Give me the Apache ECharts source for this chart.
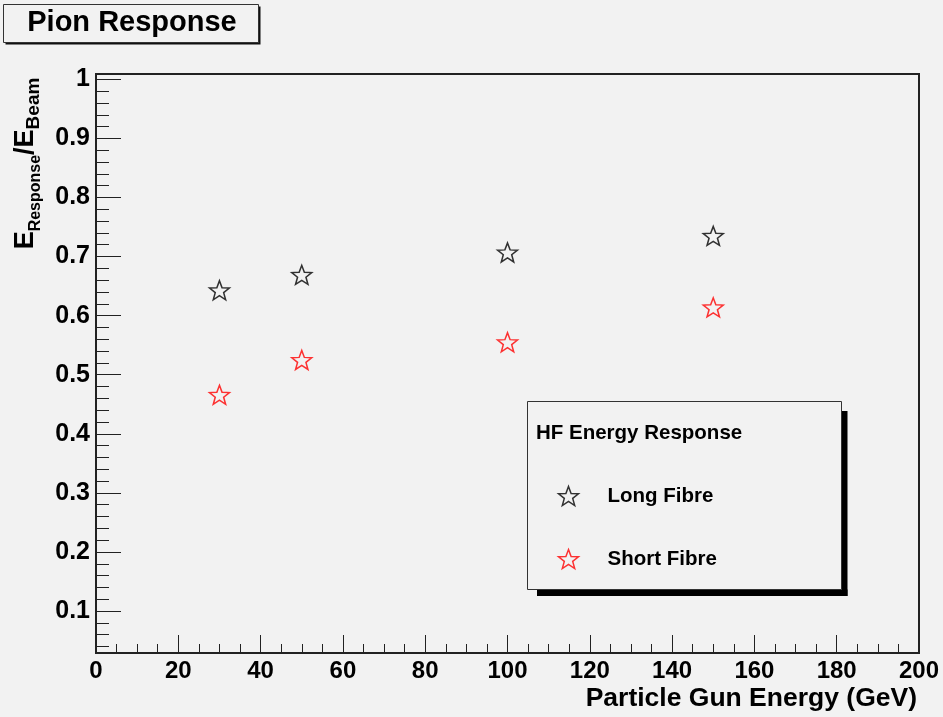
<!DOCTYPE html>
<html>
<head>
<meta charset="utf-8">
<script src="https://cdn.jsdelivr.net/npm/echarts@6/dist/echarts.min.js"></script>
<style>
  html, body { margin: 0; padding: 0; background: #f2f2f2; }
  #chart { width: 943px; height: 717px; }
</style>
</head>
<body>
<div id="chart"></div>
<script>
// Beam energies (GeV) and the measured response fractions
const energies = [30, 50, 100, 150];
const longFibre = [0.643, 0.669, 0.707, 0.735];
const shortFibre = [0.466, 0.525, 0.555, 0.614];

// Axis ranges and tick labels
const xRange = [0, 200];
const yRange = [0.029, 1.009];
const yMajorTicks = [0.1, 0.2, 0.3, 0.4, 0.5, 0.6, 0.7, 0.8, 0.9, 1];

// Minor ticks every 0.02 that fall between the major ones
const yMinorTicks = [];
for (let i = 2; i <= 50; i++) {
  const v = +(i * 0.02).toFixed(2);
  if (v > yRange[0] && v < yRange[1] && Math.abs(v * 10 - Math.round(v * 10)) > 1e-6) yMinorTicks.push(v);
}

// Open five-pointed star outline used as the marker
function starPath(inner) {
  const pts = [];
  for (let k = 0; k < 10; k++) {
    const a = -Math.PI / 2 + k * Math.PI / 5;
    const r = k % 2 === 0 ? 100 : 100 * inner;
    pts.push((r * Math.cos(a)).toFixed(2) + ' ' + (r * Math.sin(a)).toFixed(2));
  }
  return 'path://M' + pts.join(' L') + ' Z';
}
const STAR = starPath(0.42);

const FONT = '"Liberation Sans", Arial, Helvetica, sans-serif';
const BG = '#f2f2f2';
const INK = '#222';

const chart = echarts.init(document.getElementById('chart'), null, { renderer: 'canvas' });

function pairs(ys) { return energies.map((x, i) => [x, ys[i]]); }

const starStyle = (c) => ({ color: 'none', borderColor: c, borderWidth: 1.5 });

chart.setOption({
  backgroundColor: BG,
  animation: false,
  grid: {
    left: 96, right: 24, top: 74, bottom: 64,
    show: true, borderColor: INK, borderWidth: 2, backgroundColor: 'transparent'
  },
  xAxis: {
    type: 'value', min: xRange[0], max: xRange[1], interval: 20,
    axisLine: { show: false },
    splitLine: { show: false },
    axisTick: { show: true, inside: true, length: 18, lineStyle: { color: INK, width: 1 } },
    minorTick: { show: true, splitNumber: 4, length: 9, lineStyle: { color: INK, width: 1 } },
    axisLabel: { fontFamily: FONT, fontSize: 24, fontWeight: 'bold', color: '#000', margin: 6 }
  },
  yAxis: [
    {
      type: 'value', min: yRange[0], max: yRange[1],
      axisLine: { show: false },
      splitLine: { show: false },
      axisTick: { show: true, inside: true, length: 25, customValues: yMajorTicks, lineStyle: { color: INK, width: 1 } },
      axisLabel: {
        customValues: yMajorTicks, fontFamily: FONT, fontSize: 25, fontWeight: 'bold', color: '#000', margin: 6,
        formatter: (v) => String(+v.toFixed(2))
      }
    },
    {
      type: 'value', min: yRange[0], max: yRange[1], position: 'left', offset: 0,
      axisLine: { show: false },
      splitLine: { show: false },
      axisLabel: { show: false },
      axisTick: { show: true, inside: true, length: 13, customValues: yMinorTicks, lineStyle: { color: INK, width: 1 } }
    }
  ],
  legend: {
    orient: 'vertical', left: 551, top: 479,
    itemWidth: 20, itemHeight: 20, itemGap: 39,
    textStyle: { fontFamily: FONT, fontSize: 20.5, fontWeight: 'bold', color: '#000', padding: [0, 0, 0, 24] },
    data: [
      { name: 'Long Fibre', icon: STAR, itemStyle: starStyle('#000') },
      { name: 'Short Fibre', icon: STAR, itemStyle: starStyle('#ff0000') }
    ]
  },
  graphic: [
    // Title box with drop shadow
    { type: 'rect', silent: true, z: 10, shape: { x: 5.5, y: 6.5, width: 255, height: 38 }, style: { fill: '#111' } },
    { type: 'rect', silent: true, z: 11, shape: { x: 3.5, y: 4.5, width: 255, height: 38 }, style: { fill: BG, stroke: '#333', lineWidth: 1 } },
    { type: 'text', silent: true, z: 12, x: 132, y: 23,
      style: { text: 'Pion Response', font: 'bold 29px ' + FONT, fill: '#000', align: 'center', verticalAlign: 'middle' } },
    // Legend box with drop shadow
    { type: 'rect', silent: true, z: 1, shape: { x: 841.5, y: 411, width: 6, height: 185 }, style: { fill: '#000' } },
    { type: 'rect', silent: true, z: 1, shape: { x: 537, y: 589.5, width: 310.5, height: 6.5 }, style: { fill: '#000' } },
    { type: 'rect', silent: true, z: 2, shape: { x: 527.5, y: 401.5, width: 314, height: 188 }, style: { fill: BG, stroke: '#333', lineWidth: 1 } },
    { type: 'text', silent: true, z: 3, x: 536, y: 433,
      style: { text: 'HF Energy Response', font: 'bold 20.5px ' + FONT, fill: '#000', align: 'left', verticalAlign: 'middle' } },
    // Axis titles
    { type: 'text', silent: true, x: 917, y: 699,
      style: { text: 'Particle Gun Energy (GeV)', font: 'bold 26.5px ' + FONT, fill: '#000', align: 'right', verticalAlign: 'middle' } },
    { type: 'text', silent: true, x: 30, y: 163.5, rotation: Math.PI / 2,
      style: {
        text: '{e|E}{s|Response}{e|/E}{b|Beam}',
        align: 'center', verticalAlign: 'middle',
        rich: {
          e: { fontFamily: FONT, fontSize: 27, fontWeight: 'bold', lineHeight: 27, padding: [0, 0, 8, 0], color: '#000' },
          s: { fontFamily: FONT, fontSize: 16, fontWeight: 'bold', lineHeight: 17, verticalAlign: 'bottom', color: '#000' },
          b: { fontFamily: FONT, fontSize: 19, fontWeight: 'bold', lineHeight: 17, verticalAlign: 'bottom', color: '#000' }
        }
      } }
  ],
  series: [
    {
      name: 'Long Fibre', type: 'scatter', z: 5,
      symbol: STAR, symbolSize: [20, 19],
      itemStyle: starStyle('#000'),
      data: pairs(longFibre)
    },
    {
      name: 'Short Fibre', type: 'scatter', z: 5,
      symbol: STAR, symbolSize: [20, 19],
      itemStyle: starStyle('#ff0000'),
      data: pairs(shortFibre)
    }
  ]
});
</script>
</body>
</html>
